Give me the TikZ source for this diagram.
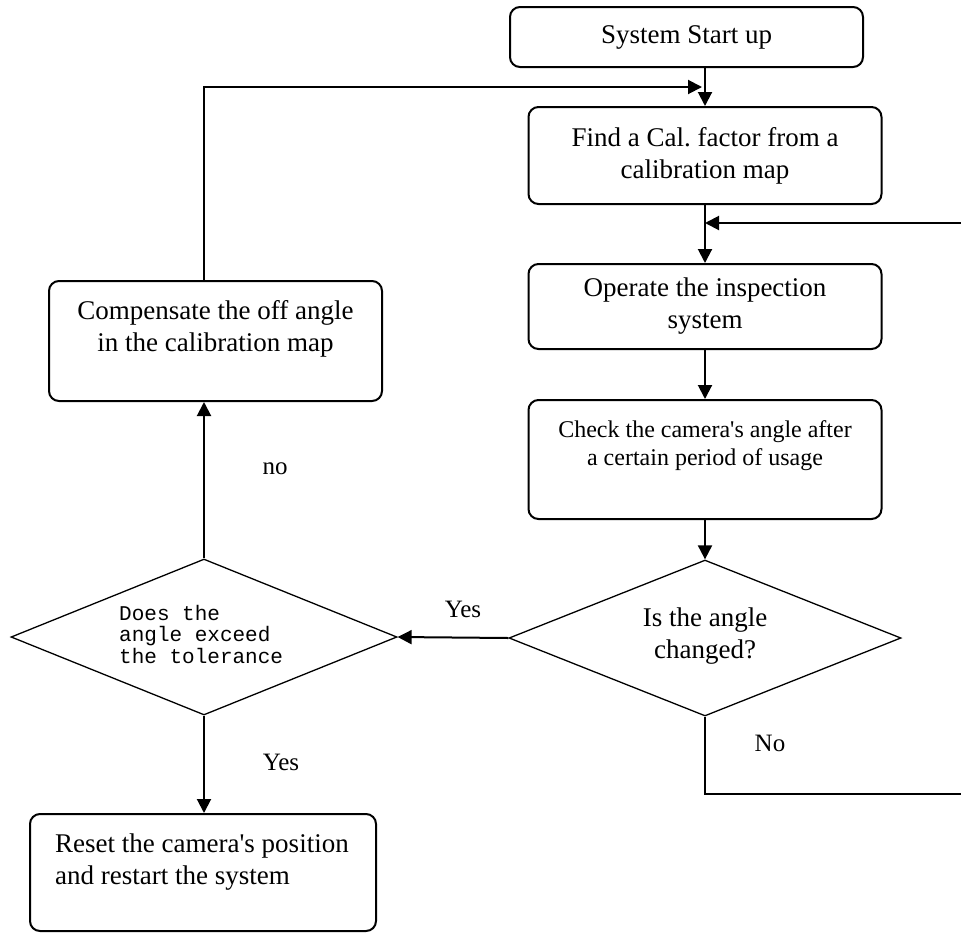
\documentclass[tikz,border=0pt]{standalone}
\usepackage{fontspec}
\setmainfont{Liberation Serif}[Ligatures=TeXOff]
\newfontfamily\monofont{Liberation Mono}
\usetikzlibrary{shapes.geometric,arrows.meta}
\begin{document}
\begin{tikzpicture}[x=1pt,y=-1pt,
  box/.style={draw,line width=2pt,rounded corners=10pt,inner sep=0pt},
  dia/.style={draw,diamond,line width=1.3pt,inner sep=0pt},
  main/.style={font=\fontsize{27}{32}\selectfont,align=center,inner sep=0pt},
  small/.style={font=\fontsize{24}{28}\selectfont,align=center,inner sep=0pt},
  mono/.style={font=\monofont\fontsize{21}{21.5}\selectfont,align=left,inner sep=0pt},
  lbl/.style={font=\fontsize{25}{30}\selectfont,inner sep=0pt},
  arr/.style={line width=2pt,-{Triangle[length=14pt,width=14pt]}},
  ln/.style={line width=2pt}]
\useasboundingbox (0,0) rectangle (961,932);

% boxes
\node[box,main,minimum width=353,minimum height=60] (start) at (686.5,37) {System Start up};
\node[box,main,minimum width=353,minimum height=97] (find) at (705,155.5) {Find a Cal.\ factor from a\\calibration map};
\node[box,main,minimum width=353,minimum height=85] (oper) at (705,306.5) {Operate the inspection\\system};
\node[box,minimum width=353,minimum height=119] (check) at (705,459.5) {};
\node[small] (tcheck) at (705,446) {Check the camera's angle after\\a certain period of usage};
\node[dia,minimum width=392,minimum height=156] (d1) at (705,638) {};
\node[main] (td1) at (705,636) {Is the angle\\changed?};
\node[dia,minimum width=386,minimum height=156] (d2) at (204,637) {};
\node[mono,anchor=west] (td2) at (119,634) {Does the\\angle exceed\\the tolerance};
\node[box,minimum width=333,minimum height=120] (comp) at (215.5,341) {};
\node[main] (tcomp) at (215.5,328.5) {Compensate the off angle\\in the calibration map};
\node[box,minimum width=346,minimum height=117] (reset) at (203,872.5) {};
\node[main,align=left,anchor=west] (treset) at (55,862.5) {Reset the camera's position\\and restart the system};

% free ends
\coordinate (j1) at (702,87);
\coordinate (rin) at (961,223);
\coordinate (rout) at (961,794);

% connectors
\draw[arr] (start.south -| find.north) -- (find.north);
\draw[arr] (comp.north -| d2.north) |- (j1);
\draw[arr] (find.south) -- (oper.north);
\draw[arr] (rin) -- (rin -| find.south);
\draw[arr] (oper.south) -- (check.north);
\draw[arr] (check.south) -- (d1.north);
\draw[arr] (d1.west) -- (d2.east);
\draw[arr] (d2.north) -- (d2.north |- comp.south);
\draw[arr] (d2.south) -- (d2.south |- reset.north);
\draw[ln] (d1.south) |- (rout);

% labels
\node[lbl] (yes1) at (463,609) {Yes};
\node[lbl] (no1) at (275,469) {no};
\node[lbl] (yes2) at (281,762) {Yes};
\node[lbl] (no2) at (770,743) {No};
\end{tikzpicture}
\end{document}
